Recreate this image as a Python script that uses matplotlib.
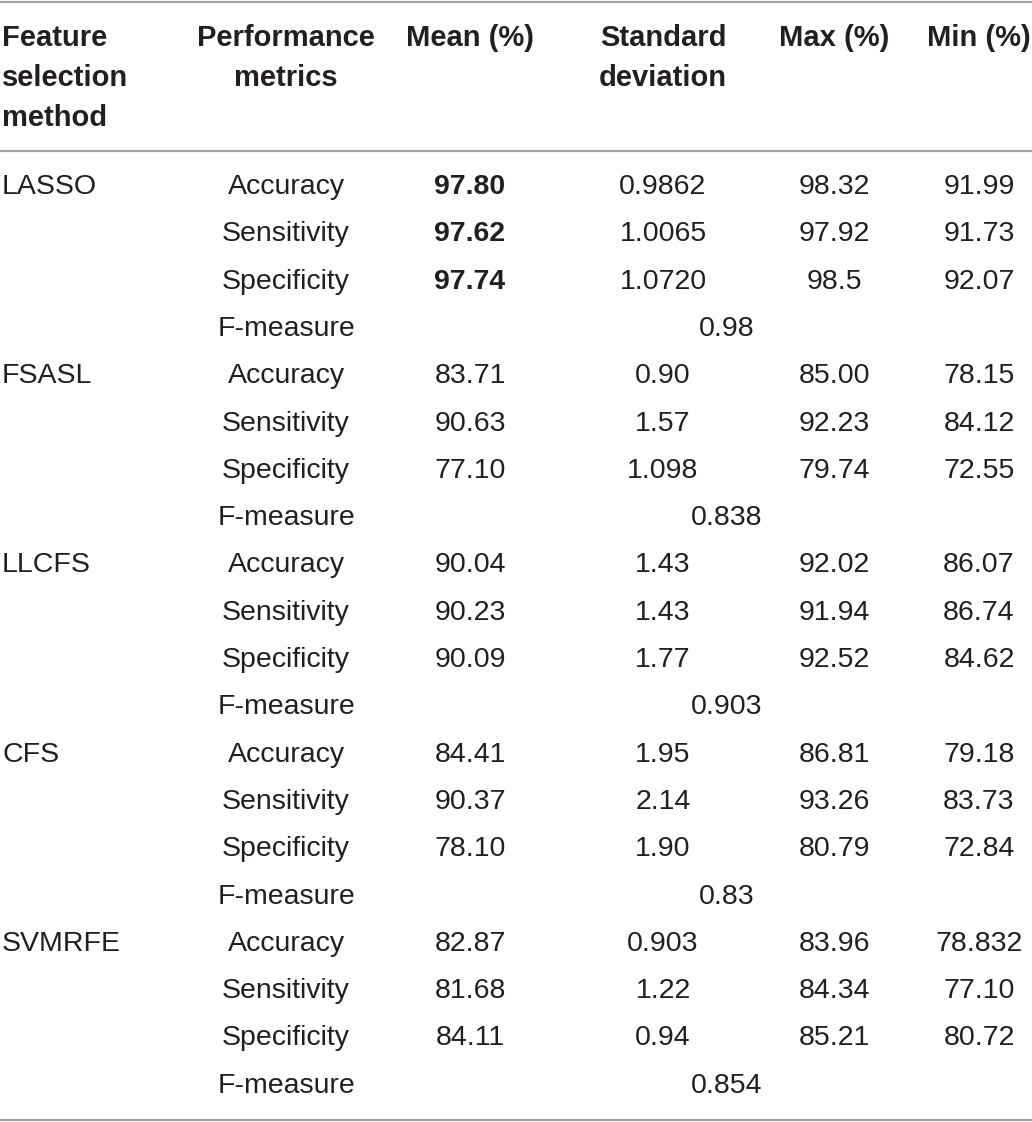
import matplotlib.pyplot as plt

plt.rcParams['font.family'] = ['Liberation Sans', 'DejaVu Sans']

#table content
headers = ['Feature\nselection\nmethod', 'Performance\nmetrics', 'Mean (%)',
           'Standard\ndeviation', 'Max (%)', 'Min (%)']
methods = ['LASSO', 'FSASL', 'LLCFS', 'CFS', 'SVMRFE']
metrics = ['Accuracy', 'Sensitivity', 'Specificity']
mean_vals = [['97.80', '97.62', '97.74'],
             ['83.71', '90.63', '77.10'],
             ['90.04', '90.23', '90.09'],
             ['84.41', '90.37', '78.10'],
             ['82.87', '81.68', '84.11']]
std_vals = [['0.9862', '1.0065', '1.0720'],
            ['0.90', '1.57', '1.098'],
            ['1.43', '1.43', '1.77'],
            ['1.95', '2.14', '1.90'],
            ['0.903', '1.22', '0.94']]
max_vals = [['98.32', '97.92', '98.5'],
            ['85.00', '92.23', '79.74'],
            ['92.02', '91.94', '92.52'],
            ['86.81', '93.26', '80.79'],
            ['83.96', '84.34', '85.21']]
min_vals = [['91.99', '91.73', '92.07'],
            ['78.15', '84.12', '72.55'],
            ['86.07', '86.74', '84.62'],
            ['79.18', '83.73', '72.84'],
            ['78.832', '77.10', '80.72']]
f_measure = ['0.98', '0.838', '0.903', '0.83', '0.854']
bold_method = 'LASSO'

#layout
W, H = 1032, 1122
TXT = '#231f20'
LINE = '#a3a3a3'
FS = 20.5
HFS = 21
col_x = [2, 286, 470, 663, 834, 979]
f_x = 727
row0, row_h = 187, 47.3

fig = plt.figure(figsize=(W / 100, H / 100), dpi=100)
ax = fig.add_axes([0, 0, 1, 1])
ax.set_xlim(0, W)
ax.set_ylim(H, 0)
ax.axis('off')

#rules
for y in [1.5, 151, 1120]:
    ax.plot([0, W], [y, y], color=LINE, lw=1.6, solid_capstyle='butt')

#header
for i, h in enumerate(headers):
    ha = 'left' if i == 0 else 'center'
    ax.text(col_x[i], 24, h, ha=ha, va='top', fontsize=HFS, fontweight='bold',
            color=TXT, linespacing=1.55, multialignment=ha)

#body
r = 0
for m, name in enumerate(methods):
    for k, met in enumerate(metrics):
        y = row0 + r * row_h
        if k == 0:
            ax.text(col_x[0], y, name, ha='left', va='center', fontsize=FS, color=TXT)
        ax.text(col_x[1], y, met, ha='center', va='center', fontsize=FS, color=TXT)
        fw = 'bold' if name == bold_method else 'normal'
        ax.text(col_x[2], y, mean_vals[m][k], ha='center', va='center',
                fontsize=FS, color=TXT, fontweight=fw)
        ax.text(col_x[3], y, std_vals[m][k], ha='center', va='center', fontsize=FS, color=TXT)
        ax.text(col_x[4], y, max_vals[m][k], ha='center', va='center', fontsize=FS, color=TXT)
        ax.text(col_x[5], y, min_vals[m][k], ha='center', va='center', fontsize=FS, color=TXT)
        r += 1
    y = row0 + r * row_h
    ax.text(col_x[1], y, 'F-measure', ha='center', va='center', fontsize=FS, color=TXT)
    ax.text(f_x, y, f_measure[m], ha='center', va='center', fontsize=FS, color=TXT)
    r += 1

fig.savefig('out.png', dpi=100, facecolor='white')
